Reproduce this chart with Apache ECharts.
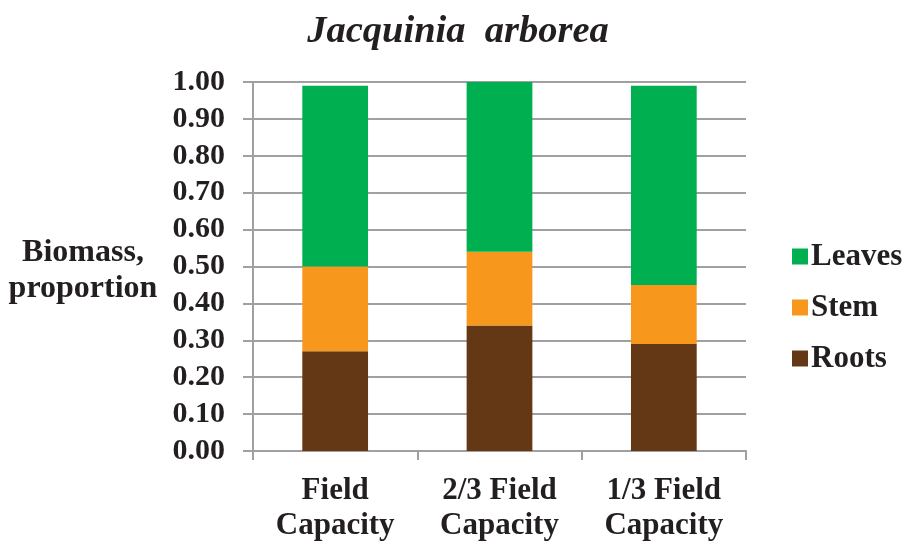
<!DOCTYPE html>
<html>
<head>
<meta charset="utf-8">
<script src="https://cdn.jsdelivr.net/npm/echarts@6/dist/echarts.min.js"></script>
<style>
  html, body { margin: 0; padding: 0; background: #fff; }
  #chart { width: 908px; height: 545px; }
</style>
</head>
<body>
<div id="chart"></div>
<script>
// Treatments along the x axis
const categories = ['Field\nCapacity', '2/3 Field\nCapacity', '1/3 Field\nCapacity'];
// Biomass fractions per organ (stacked segments)
const roots = [0.27, 0.34, 0.29];
const stem = [0.23, 0.20, 0.16];
const leaves = [0.49, 0.46, 0.54];
const yTicks = [0, 0.1, 0.2, 0.3, 0.4, 0.5, 0.6, 0.7, 0.8, 0.9, 1.0];
const yAxisTitle = 'Biomass,\nproportion';

const FONT = '"Liberation Serif", "Times New Roman", serif';
const INK = '#231f20';
const chart = echarts.init(document.getElementById('chart'), null, { renderer: 'canvas' });

const seriesDefs = [
  { name: 'Roots', data: roots, color: '#653815' },
  { name: 'Stem', data: stem, color: '#F7981D' },
  { name: 'Leaves', data: leaves, color: '#00B050' }
];

chart.setOption({
  backgroundColor: '#fff',
  animation: false,
  title: {
    text: 'Jacquinia  arborea',
    left: 453,
    textAlign: 'center',
    top: 8,
    textStyle: { fontFamily: FONT, fontSize: 38.5, fontWeight: 'bold', fontStyle: 'italic', color: INK }
  },
  // horizontal axis title to the left of the value axis
  graphic: [{
    type: 'text',
    left: 83,
    top: 271,
    style: {
      text: yAxisTitle,
      font: 'bold 32px ' + FONT,
      fill: INK,
      lineHeight: 36,
      align: 'center',
      verticalAlign: 'middle'
    },
    x: 83, y: 271,
    left: null, top: null
  }],
  grid: { left: 253, right: 162, top: 82, bottom: 94 },
  legend: {
    orient: 'vertical',
    left: 787,
    top: 236,
    itemWidth: 16,
    itemHeight: 16,
    itemGap: 20,
    icon: 'rect',
    data: ['Leaves', 'Stem', 'Roots'],
    textStyle: { fontFamily: FONT, fontSize: 31, fontWeight: 'bold', color: INK, padding: [0, 0, 0, -2] }
  },
  xAxis: {
    type: 'category',
    data: categories,
    axisLine: { lineStyle: { color: '#a0a0a2', width: 2 } },
    axisTick: { show: true, length: 9, lineStyle: { color: '#a0a0a2', width: 2 } },
    axisLabel: {
      fontFamily: FONT, fontSize: 31, fontWeight: 'bold', color: INK,
      lineHeight: 35, margin: 22
    }
  },
  yAxis: {
    type: 'value',
    min: 0,
    max: 1,
    interval: 0.1,
    axisLine: { show: true, lineStyle: { color: '#a0a0a2', width: 2 } },
    axisTick: { show: true, length: 10, lineStyle: { color: '#a0a0a2', width: 2 } },
    splitLine: { lineStyle: { color: '#a0a0a2', width: 2 } },
    axisLabel: {
      fontFamily: FONT, fontSize: 30, fontWeight: 'bold', color: INK, margin: 28,
      formatter: v => {
        const t = yTicks.find(k => Math.abs(k - v) < 1e-9);
        return (t === undefined ? v : t).toFixed(2);
      }
    }
  },
  series: seriesDefs.map(s => ({
    name: s.name,
    type: 'bar',
    stack: 'biomass',
    barWidth: '40%',
    data: s.data,
    itemStyle: { color: s.color }
  }))
});
</script>
</body>
</html>
